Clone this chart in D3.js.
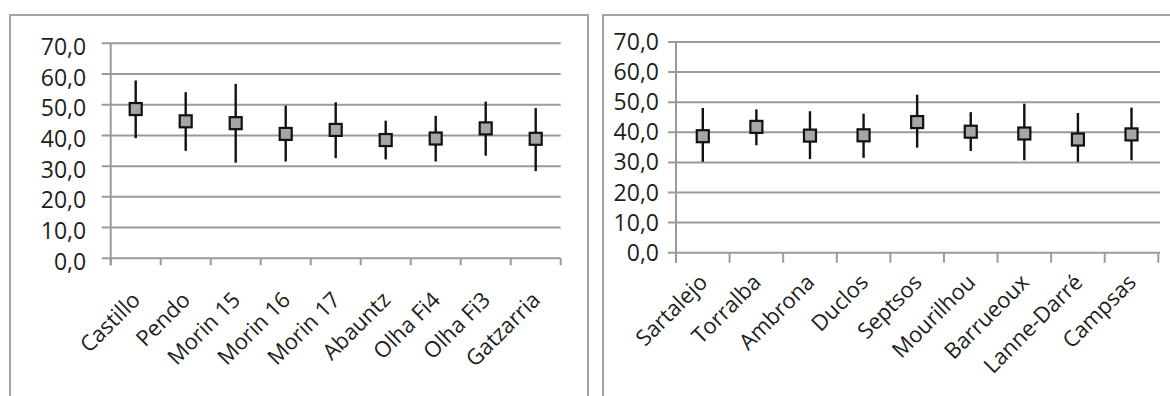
<!DOCTYPE html>
<html>
<head>
<meta charset="utf-8">
<script src="https://cdn.jsdelivr.net/npm/d3@7"></script>
<style>
  html, body { margin: 0; padding: 0; background: #fff; }
  svg { display: block; }
  text { font-family: "Open Sans", sans-serif; fill: #1e1e1e; }
</style>
</head>
<body>
<svg id="chart" width="1170" height="396"></svg>
<script>
// ---- data ----
const sitesA = ["Castillo", "Pendo", "Morin 15", "Morin 16", "Morin 17", "Abauntz", "Olha Fi4", "Olha Fi3", "Gatzarria"];
const meanA  = [48.6, 44.6, 44.0, 40.5, 41.8, 38.5, 39.0, 42.3, 38.9];
const highA  = [57.9, 54.1, 56.8, 49.7, 50.8, 44.8, 46.4, 51.0, 48.9];
const lowA   = [39.1, 35.0, 31.1, 31.5, 32.6, 32.2, 31.5, 33.4, 28.4];

const sitesB = ["Sartalejo", "Torralba", "Ambrona", "Duclos", "Septsos", "Mourilhou", "Barrueoux", "Lanne-Darré", "Campsas"];
const meanB  = [38.7, 41.8, 38.9, 39.0, 43.4, 40.2, 39.6, 37.6, 39.3];
const highB  = [48.1, 47.6, 47.0, 46.2, 52.5, 46.7, 49.5, 46.4, 48.2];
const lowB   = [30.2, 35.7, 31.1, 31.5, 34.9, 33.8, 30.7, 30.2, 30.7];

const yTicks = [0, 10, 20, 30, 40, 50, 60, 70];

const svg = d3.select("#chart");
const fmt = v => d3.format(".1f")(v).replace(".", ",");

// panel frames
svg.append("rect").attr("x", 10).attr("y", 15).attr("width", 578).attr("height", 400)
  .attr("fill", "none").attr("stroke", "#a3a3a3").attr("stroke-width", 2);
svg.append("rect").attr("x", 603).attr("y", 15).attr("width", 600).attr("height", 400)
  .attr("fill", "none").attr("stroke", "#a3a3a3").attr("stroke-width", 2);

function panel(cfg) {
  const g = svg.append("g");
  const x = d3.scaleBand().domain(cfg.sites).range([cfg.x0, cfg.x1]).padding(0);
  const y = d3.scaleLinear().domain([0, 70]).range([cfg.y0, cfg.y1]);
  const grid = "#9a9a9a";

  // gridlines + y ticks
  g.selectAll(".grid").data(yTicks).join("line")
    .attr("x1", cfg.x0 - cfg.ytick).attr("x2", cfg.gridEnd)
    .attr("y1", d => y(d)).attr("y2", d => y(d))
    .attr("stroke", grid).attr("stroke-width", 2);
  // y axis line
  g.append("line").attr("x1", cfg.x0).attr("x2", cfg.x0)
    .attr("y1", y(70)).attr("y2", y(0) + cfg.xtick)
    .attr("stroke", grid).attr("stroke-width", 2);
  // y labels
  g.selectAll(".yl").data(yTicks).join("text")
    .attr("x", cfg.x0 - cfg.ylabOff).attr("y", d => y(d) + cfg.ylabDy)
    .attr("text-anchor", "end").attr("font-size", 23)
    .text(fmt);

  // x tick marks at category boundaries
  const bounds = cfg.sites.map(s => x(s)).concat([x(cfg.sites[cfg.sites.length - 1]) + x.bandwidth()]);
  g.selectAll(".xt").data(bounds).join("line")
    .attr("x1", d => d).attr("x2", d => d)
    .attr("y1", y(0)).attr("y2", y(0) + cfg.xtick)
    .attr("stroke", grid).attr("stroke-width", 2);

  // x labels
  g.selectAll(".xl").data(cfg.sites).join("text")
    .attr("text-anchor", "end").attr("font-size", 22)
    .attr("transform", d => {
      const ax = x(d) + x.bandwidth() / 2 + cfg.labDx;
      const ay = y(0) + cfg.labDy;
      return `translate(${ax},${ay}) rotate(-45)`;
    })
    .text(d => d);

  const cx = d => x(d) + x.bandwidth() / 2;
  // whiskers
  g.selectAll(".wh").data(cfg.sites).join("line")
    .attr("x1", cx).attr("x2", cx)
    .attr("y1", (d, i) => y(cfg.high[i])).attr("y2", (d, i) => y(cfg.low[i]))
    .attr("stroke", "#111").attr("stroke-width", 2.4);
  // markers
  const s = 12;
  g.selectAll(".mk").data(cfg.sites).join("rect")
    .attr("x", d => cx(d) - s / 2).attr("y", (d, i) => y(cfg.mean[i]) - s / 2)
    .attr("width", s).attr("height", s)
    .attr("fill", "#a6a6a6").attr("stroke", "#111").attr("stroke-width", 2.2);
}

panel({ sites: sitesA, mean: meanA, high: highA, low: lowA,
  x0: 110.7, x1: 560.7, gridEnd: 560.7, y0: 258.3, y1: 43.3,
  ytick: 9, xtick: 7, ylabOff: 24.5, ylabDy: 11.5, labDx: 6, labDy: 43 });
panel({ sites: sitesB, mean: meanB, high: highB, low: lowB,
  x0: 676, x1: 1158.3, gridEnd: 1160, y0: 252.7, y1: 42,
  ytick: 8, xtick: 10, ylabOff: 17, ylabDy: 8, labDx: 6, labDy: 31 });
</script>
</body>
</html>
